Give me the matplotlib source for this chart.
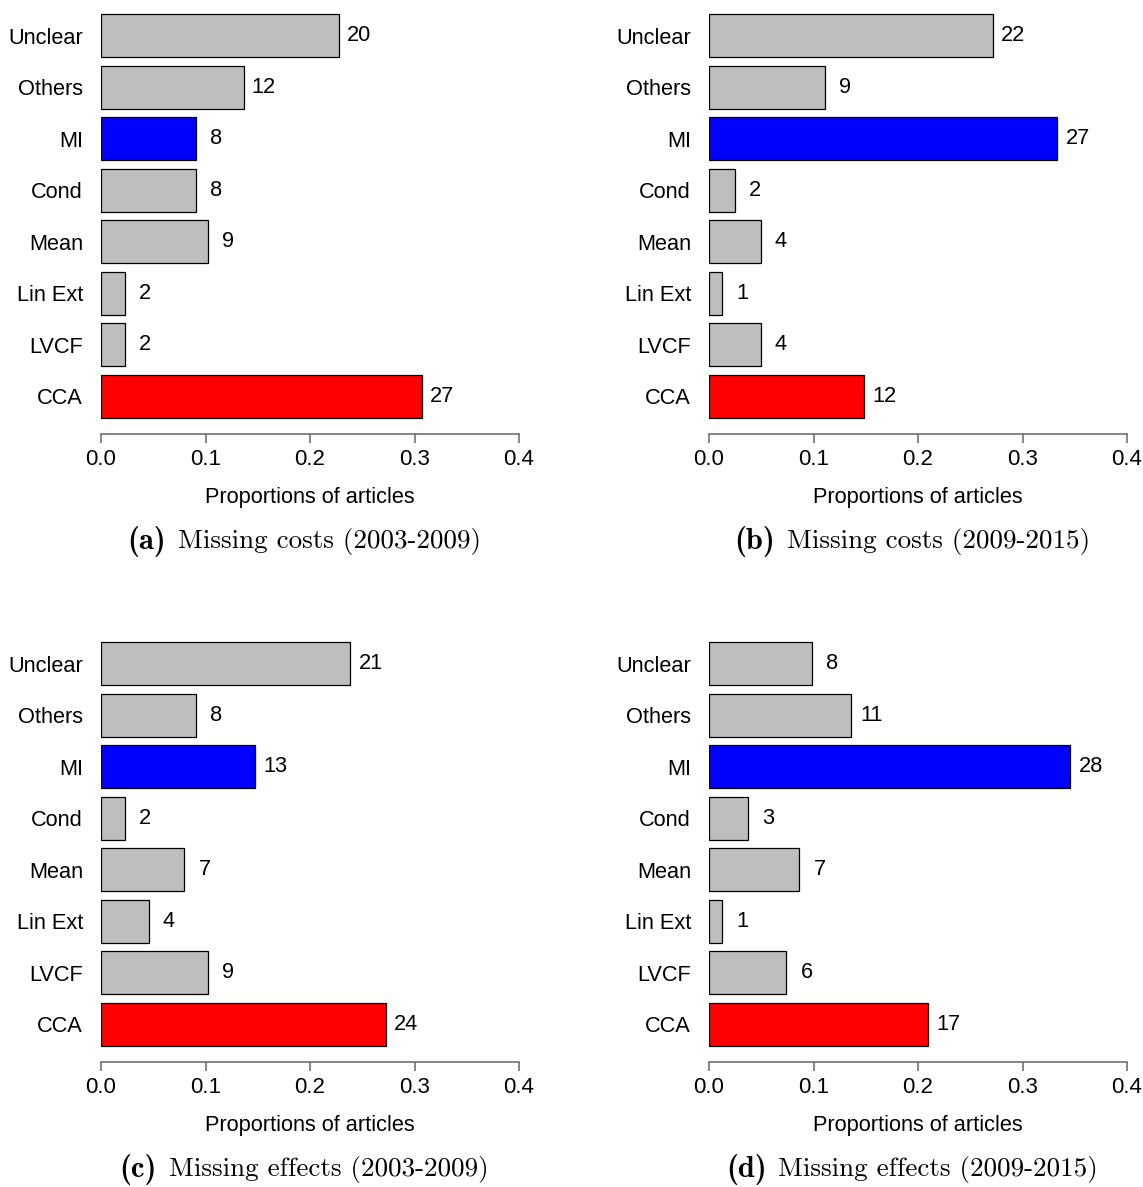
"""Imputation methods for missing costs / effects, two periods, 2x2 barplots."""
import matplotlib
matplotlib.use("Agg")
import matplotlib.pyplot as plt

plt.rcParams["font.family"] = ["Liberation Sans", "DejaVu Sans"]

metodos = ["CCA", "LVCF", "Lin Ext", "Mean", "Cond", "MI", "Others", "Unclear"]
cores = ["#FF0000", "#BEBEBE", "#BEBEBE", "#BEBEBE", "#BEBEBE", "#0000FF",
         "#BEBEBE", "#BEBEBE"]

# contagens de artigos por metodo (ordem de 'metodos')
custos_0309 = [27, 2, 2, 9, 8, 8, 12, 20]
custos_0915 = [12, 4, 1, 4, 2, 27, 9, 22]
efeitos_0309 = [24, 9, 4, 7, 2, 13, 8, 21]
efeitos_0915 = [17, 6, 1, 7, 3, 28, 11, 8]

legendas = [("(a)", "Missing costs (2003-2009)"),
            ("(b)", "Missing costs (2009-2015)"),
            ("(c)", "Missing effects (2003-2009)"),
            ("(d)", "Missing effects (2009-2015)")]

W, H = 1143, 1187
fig = plt.figure(figsize=(W / 100, H / 100), dpi=100)
renderer = fig.canvas.get_renderer()

# posicoes em pixels: (esquerda, topo, base) de cada painel
paineis = [(101, 5, 433.5), (709, 5, 433.5), (101, 633, 1061.5), (709, 633, 1061.5)]
dados = [custos_0309, custos_0915, efeitos_0309, efeitos_0915]
FS = 15.7
FS_LEG = 19.5

for (x0, y_top, y_bot), contagens, (letra, titulo) in zip(paineis, dados, legendas):
    ax = fig.add_axes([x0 / W, 1 - y_bot / H, 418 / W, (y_bot - y_top) / H])
    total = sum(contagens)
    props = [c / total for c in contagens]
    pos = list(range(len(metodos)))
    ax.barh(pos, props, height=1 / 1.2, color=cores, edgecolor="black", linewidth=0.9)
    for p, v, c in zip(pos, props, contagens):
        ax.text(v + 0.0195, p, str(c), ha="center", va="center", fontsize=FS)

    ax.set_xlim(0, 0.4)
    ax.set_ylim(-0.727, 7.6)
    ax.set_yticks(pos)
    ax.set_yticklabels(metodos, fontsize=FS)
    ax.tick_params(axis="y", length=0, pad=13)
    ax.set_xticks([0, 0.1, 0.2, 0.3, 0.4])
    ax.set_xticklabels(["0.0", "0.1", "0.2", "0.3", "0.4"], fontsize=16)
    ax.tick_params(axis="x", length=6.3, width=1.1, color="#666666", pad=5)
    for s in ["top", "right", "left"]:
        ax.spines[s].set_visible(False)
    ax.spines["bottom"].set_color("#666666")
    ax.spines["bottom"].set_linewidth(1.1)
    ax.set_xlabel("Proportions of articles", fontsize=FS, labelpad=12)
    ax.patch.set_visible(False)

    # legenda estilo LaTeX: letra em negrito + texto, centrada sob o painel
    yc = 1 - (y_bot + 108) / H
    t_letra = fig.text(0, yc, letra, ha="left", va="center",
                       fontsize=22, family="cmb10")
    t_tit = fig.text(0, yc, titulo, ha="left", va="center",
                     fontsize=FS_LEG, family="cmr10")
    w1 = t_letra.get_window_extent(renderer).width
    w2 = t_tit.get_window_extent(renderer).width
    gap = 12
    esq = x0 + 203 - (w1 + gap + w2) / 2
    t_letra.set_x(esq / W)
    t_tit.set_x((esq + w1 + gap) / W)

fig.savefig("out.png", dpi=100)
